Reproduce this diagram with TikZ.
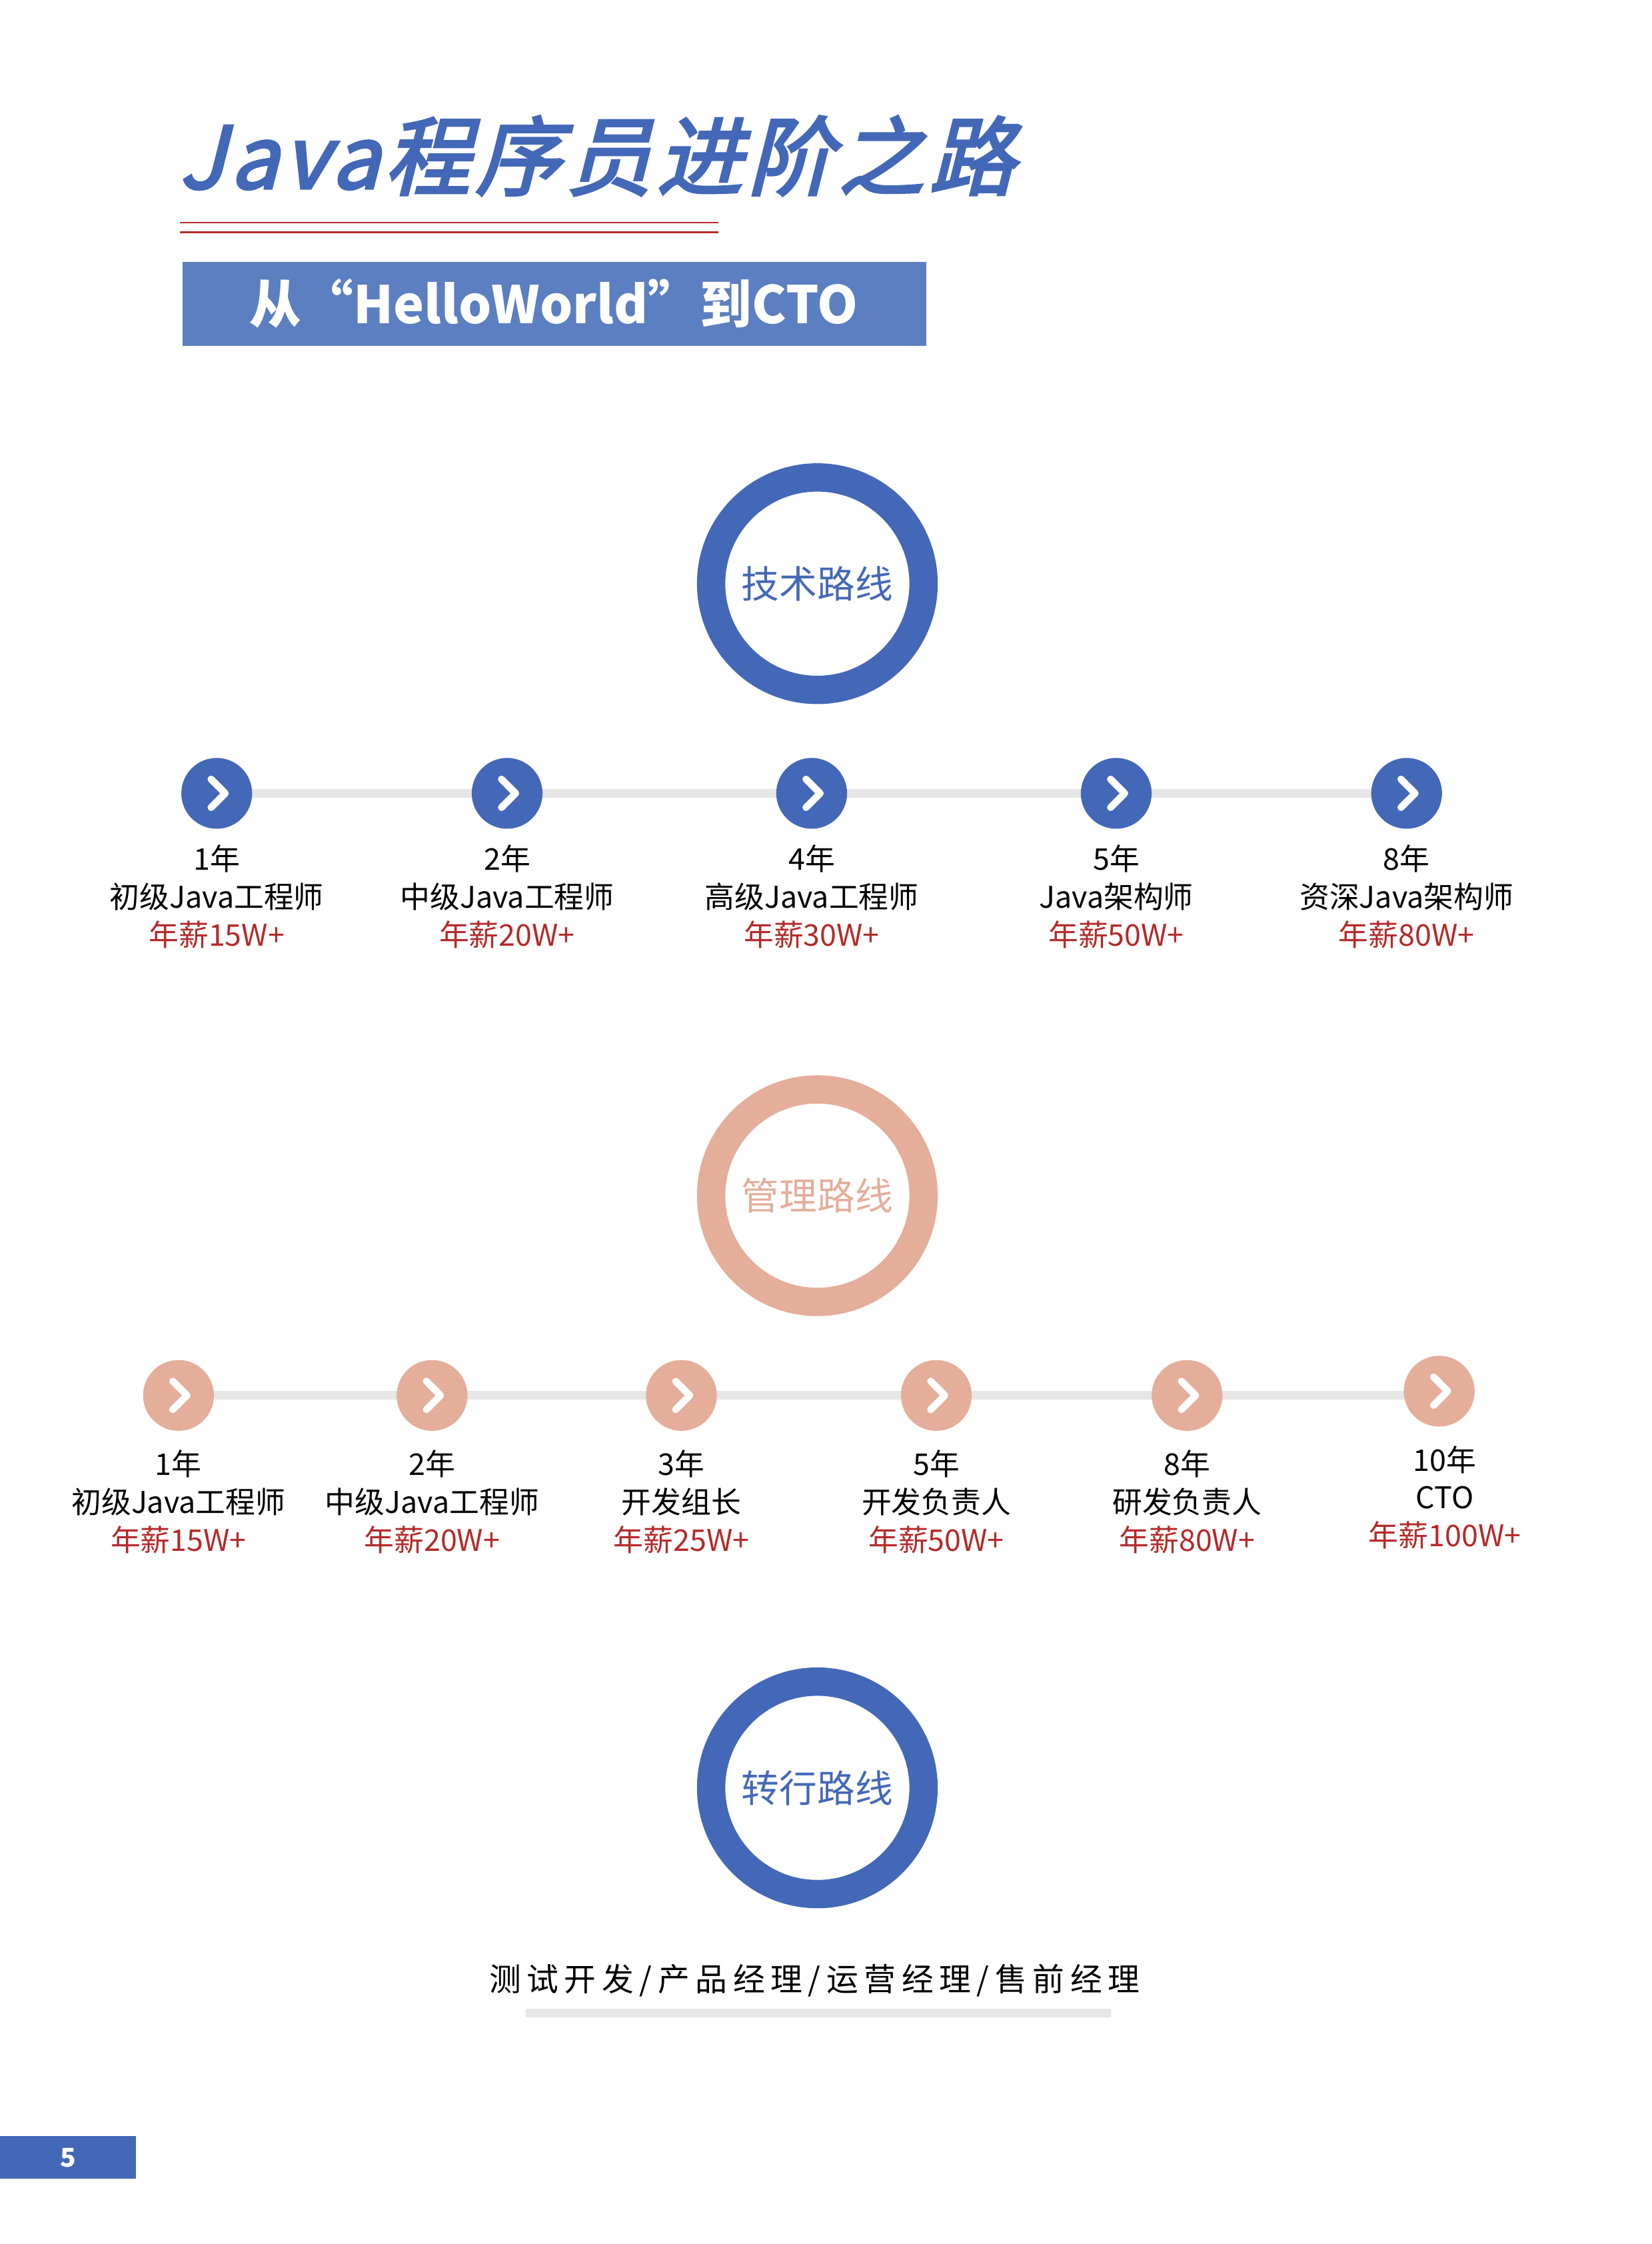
\documentclass[tikz,border=0pt]{standalone}
\usepackage{fontspec}
\setmainfont{Noto Sans CJK SC}
\newfontfamily\titlefont[FakeSlant=0.25,FakeBold=3,LetterSpace=6]{Noto Sans CJK SC}
\usetikzlibrary{positioning}
\definecolor{techblue}{HTML}{4468B8}
\definecolor{boxblue}{HTML}{5B7FC0}
\definecolor{salmon}{HTML}{E4AE9B}
\definecolor{payred}{HTML}{B52A2A}
\definecolor{railgray}{HTML}{E6E6E6}
\tikzset{
  font={\fontsize{30pt}{36pt}\selectfont},
  ring/.style={circle, draw=#1, line width=20*0.5mm, minimum size=150*0.5mm, inner sep=0pt,
    font={\fontsize{38pt}{40pt}\selectfont}, text=#1},
  step/.style={circle, fill=#1, minimum size=50*0.5mm, inner sep=0pt},
  chev/.style={white, line width=5*0.5mm, line cap=round, line join=round},
  rail/.style={railgray, line width=6*0.5mm},
  lbl/.style={align=center, font={\fontsize{30pt}{38pt}\selectfont}}}
\begin{document}
\begin{tikzpicture}[x=0.05cm, y=-0.05cm]
\useasboundingbox (0,0) rectangle (1166,1584);
% title block
\node[anchor=west, text=techblue, font={\titlefont\fontsize{86pt}{90pt}\selectfont}] (title) at (124,110) {Java程序员进阶之路};
\draw[payred, line width=1.5] (127,157) -- (507,157);
\draw[payred, line width=1.5] (127,164) -- (507,164);
\fill[boxblue] (129,185) rectangle (654,244);
\node[white, font={\bfseries\fontsize{52pt}{54pt}\selectfont}] (sub) at (391,214) {从“HelloWorld”到CTO};
% technical route
\node[ring=techblue] (tech) at (577,412) {技术路线};
\draw[rail] (153,560) -- (993,560);
\foreach \x/\yr/\job/\pay [count=\i] in {153/1年/初级Java工程师/15W+, 358/2年/中级Java工程师/20W+,
    573/4年/高级Java工程师/30W+, 788/5年/Java架构师/50W+, 993/8年/资深Java架构师/80W+} {
  \node[step=techblue] (t\i) at (\x,560) {};
  \draw[chev] ([shift={(-4,-10)}]t\i.center) -- ([shift={(6,0)}]t\i.center) -- ([shift={(-4,10)}]t\i.center);
  \node[lbl] (tl\i) at (\x,633) {\yr\\\job\\\textcolor{payred}{年薪\pay}};
}
% management route
\node[ring=salmon] (mgmt) at (577,844) {管理路线};
\draw[rail] (126,985) -- (1016,985);
\foreach \x/\yr/\job/\pay [count=\i] in {126/1年/初级Java工程师/15W+, 305/2年/中级Java工程师/20W+,
    481/3年/开发组长/25W+, 661/5年/开发负责人/50W+, 838/8年/研发负责人/80W+} {
  \node[step=salmon] (m\i) at (\x,985) {};
  \draw[chev] ([shift={(-4,-10)}]m\i.center) -- ([shift={(6,0)}]m\i.center) -- ([shift={(-4,10)}]m\i.center);
  \node[lbl] (ml\i) at (\x,1060) {\yr\\\job\\\textcolor{payred}{年薪\pay}};
}
\node[step=salmon] (m6) at (1016,982) {};
\draw[chev] ([shift={(-4,-10)}]m6.center) -- ([shift={(6,0)}]m6.center) -- ([shift={(-4,10)}]m6.center);
\node[lbl] (ml6) at (1020,1057) {10年\\CTO\\\textcolor{payred}{年薪100W+}};
% career change route
\node[ring=techblue] (shift) at (577,1262) {转行路线};
\node[font={\addfontfeature{LetterSpace=18}\fontsize{32pt}{34pt}\selectfont}] (other) at (575,1398) {测试开发/产品经理/运营经理/售前经理};
\draw[rail] (371,1421) -- (784,1421);
% page number
\fill[techblue] (0,1508) rectangle (96,1538);
\node[white, font={\bfseries\fontsize{26pt}{28pt}\selectfont}] (page) at (48,1523) {5};
\end{tikzpicture}
\end{document}
